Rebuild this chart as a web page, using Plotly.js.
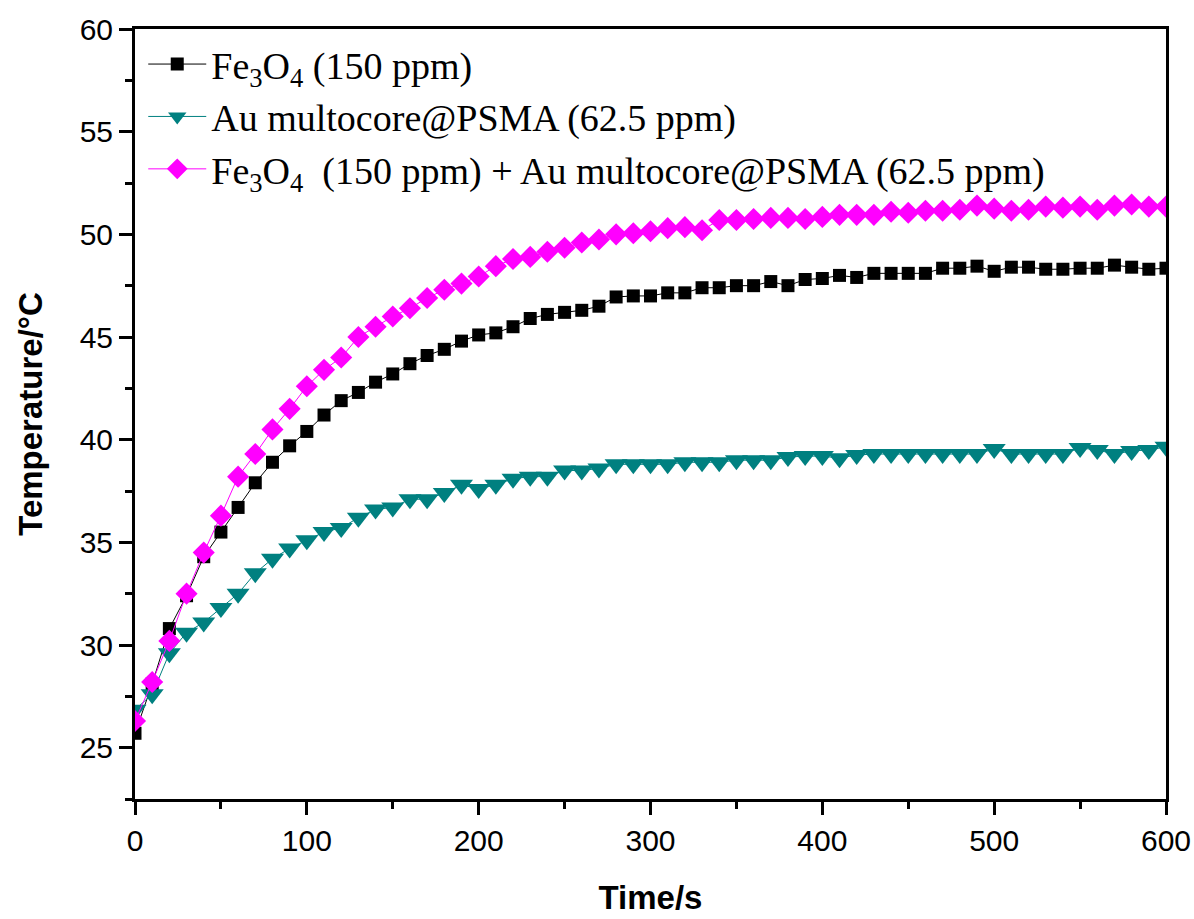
<!DOCTYPE html>
<html>
<head>
<meta charset="utf-8">
<script src="https://cdn.plot.ly/plotly-3.0.1.min.js"></script>
<style>html,body{margin:0;padding:0;background:#fff;}#chart{width:1194px;height:919px;}</style>
</head>
<body>
<div id="chart"></div>
<script>
const time = [0,10,20,30,40,50,60,70,80,90,100,110,120,130,140,150,160,170,180,190,200,210,220,230,240,250,260,270,280,290,300,310,320,330,340,350,360,370,380,390,400,410,420,430,440,450,460,470,480,490,500,510,520,530,540,550,560,570,580,590,600];

const fe3o4 = [25.7,28.1,30.8,32.4,34.3,35.5,36.7,37.9,38.9,39.7,40.4,41.2,41.9,42.3,42.8,43.2,43.7,44.1,44.4,44.8,45.1,45.2,45.5,45.9,46.1,46.2,46.3,46.5,46.95,47.0,47.0,47.15,47.15,47.4,47.4,47.5,47.5,47.7,47.5,47.8,47.85,48.0,47.9,48.1,48.1,48.1,48.1,48.35,48.35,48.45,48.2,48.4,48.4,48.3,48.3,48.35,48.35,48.5,48.4,48.3,48.35];

const auPSMA = [26.85,27.6,29.6,30.6,31.1,31.8,32.5,33.5,34.2,34.7,35.1,35.5,35.7,36.2,36.6,36.7,37.1,37.1,37.4,37.8,37.6,37.8,38.1,38.2,38.2,38.5,38.5,38.6,38.8,38.8,38.8,38.8,38.9,38.9,38.9,39.0,39.0,39.0,39.15,39.2,39.2,39.1,39.25,39.3,39.3,39.3,39.3,39.3,39.3,39.3,39.55,39.3,39.3,39.3,39.3,39.6,39.5,39.3,39.45,39.5,39.65];

const combined = [26.3,28.2,30.2,32.5,34.5,36.3,38.2,39.3,40.5,41.5,42.6,43.4,44.0,45.0,45.5,46.0,46.4,46.9,47.3,47.6,47.95,48.45,48.8,48.9,49.15,49.35,49.6,49.75,50.0,50.05,50.15,50.3,50.35,50.2,50.7,50.7,50.75,50.8,50.8,50.75,50.85,50.95,50.95,50.95,51.1,51.05,51.15,51.15,51.2,51.4,51.25,51.15,51.2,51.35,51.3,51.35,51.2,51.4,51.45,51.35,51.35];

const seriesNames = [
  "Fe<sub>3</sub>O<sub>4</sub> (150 ppm)",
  "Au multocore@PSMA (62.5 ppm)",
  "Fe<sub>3</sub>O<sub>4</sub>  (150 ppm) + Au multocore@PSMA (62.5 ppm)"
];
const xTicks = [0,100,200,300,400,500,600];
const yTicks = [25,30,35,40,45,50,55,60];

const traces = [
  {x: time, y: fe3o4, name: seriesNames[0], mode: 'lines+markers',
   line: {color: '#000000', width: 1},
   marker: {symbol: 'square', size: 13, color: '#000000'}},
  {x: time, y: auPSMA, name: seriesNames[1], mode: 'lines+markers',
   line: {color: '#008080', width: 1},
   marker: {symbol: 'triangle-down', size: 20, color: '#008080'}},
  {x: time, y: combined, name: seriesNames[2], mode: 'lines+markers',
   line: {color: '#FF00FF', width: 1},
   marker: {symbol: 'diamond', size: 17, color: '#FF00FF'}}
];

const tickFont = {family: 'Arial, "Liberation Sans", sans-serif', size: 30, color: '#000'};
const titleFont = {family: 'Arial, "Liberation Sans", sans-serif', size: 33, color: '#000', weight: 'bold'};

const layout = {
  width: 1194, height: 919,
  margin: {l: 135, r: 28, t: 29, b: 120},
  paper_bgcolor: '#fff', plot_bgcolor: '#fff',
  showlegend: true,
  legend: {
    x: 0.008, y: 0.995, xanchor: 'left', yanchor: 'top',
    bgcolor: 'rgba(0,0,0,0)', borderwidth: 0,
    font: {family: '"Liberation Serif", "Times New Roman", serif', size: 38, color: '#000'},
    itemwidth: 58, traceorder: 'normal'
  },
  xaxis: {
    range: [0, 600], tickvals: xTicks, ticktext: xTicks.map(String),
    showgrid: false, zeroline: false,
    showline: true, linecolor: '#000', linewidth: 3, mirror: true,
    ticks: 'outside', ticklen: 13, tickwidth: 3, tickcolor: '#000',
    minor: {dtick: 50, tick0: 0, ticks: 'outside', ticklen: 7, tickwidth: 3, tickcolor: '#000', showgrid: false},
    tickfont: tickFont,
    title: {text: 'Time/s', font: titleFont, standoff: 30}
  },
  yaxis: {
    range: [22.5, 60], tickvals: yTicks, ticktext: yTicks.map(String),
    showgrid: false, zeroline: false,
    showline: true, linecolor: '#000', linewidth: 3, mirror: true,
    ticks: 'outside', ticklen: 13, tickwidth: 3, tickcolor: '#000',
    minor: {dtick: 2.5, tick0: 0, ticks: 'outside', ticklen: 7, tickwidth: 3, tickcolor: '#000', showgrid: false},
    tickfont: tickFont,
    title: {text: 'Temperature/°C', font: titleFont, standoff: 28}
  }
};

Plotly.newPlot('chart', traces, layout, {displayModeBar: false, staticPlot: true});
</script>
</body>
</html>
